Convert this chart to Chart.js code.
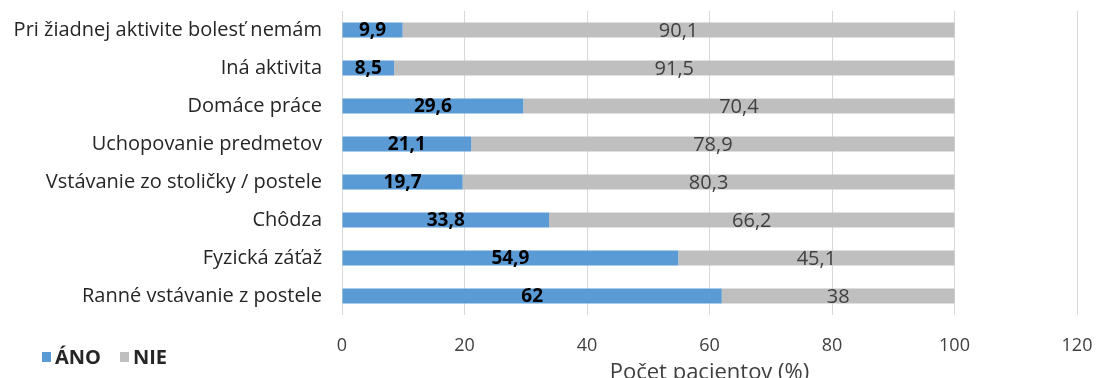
<!DOCTYPE html>
<html>
<head>
<meta charset="utf-8">
<script src="https://cdn.jsdelivr.net/npm/chart.js@4"></script>
<style>
  html, body { margin: 0; padding: 0; background: #fff; overflow: hidden; }
  #wrap { position: relative; width: 1097px; height: 390px; }
  #legend { position: absolute; left: 42px; top: 343px; font: bold 20px "Open Sans", sans-serif; color: #262626; display: flex; }
  #legend span.item { display: flex; align-items: center; margin-right: 19px; }
  #legend span.box { display: inline-block; width: 9px; height: 10px; margin-right: 4px; }
</style>
</head>
<body>
<div id="wrap">
  <canvas id="chart" width="1097" height="390"></canvas>
  <div id="legend"></div>
</div>
<script>
// categories top to bottom
const categories = [
  "Pri žiadnej aktivite bolesť nemám",
  "Iná aktivita",
  "Domáce práce",
  "Uchopovanie predmetov",
  "Vstávanie zo stoličky / postele",
  "Chôdza",
  "Fyzická záťaž",
  "Ranné vstávanie z postele"
];
const ano = [9.9, 8.5, 29.6, 21.1, 19.7, 33.8, 54.9, 62];
const nie = [90.1, 91.5, 70.4, 78.9, 80.3, 66.2, 45.1, 38];
const seriesNames = ["ÁNO", "NIE"];
const colors = ["#5B9BD5", "#BFBFBF"];

const fmt = v => String(v).replace(".", ",");

// draws value labels in the middle of each bar
const barLabels = {
  id: "barLabels",
  afterDatasetsDraw(chart) {
    const ctx = chart.ctx;
    ctx.save();
    ctx.textAlign = "center";
    ctx.textBaseline = "middle";
    chart.data.datasets.forEach((ds, i) => {
      const meta = chart.getDatasetMeta(i);
      ctx.font = (i === 0 ? "bold 19px" : "20px") + " 'Open Sans', sans-serif";
      ctx.fillStyle = i === 0 ? "#000" : "#404040";
      meta.data.forEach((bar, j) => {
        const x = (bar.x + bar.base) / 2;
        ctx.fillText(fmt(ds.data[j]), x, bar.y + 1);
      });
    });
    ctx.restore();
  }
};

const chart = new Chart(document.getElementById("chart"), {
  type: "bar",
  data: {
    labels: categories,
    datasets: [
      { label: seriesNames[0], data: ano, backgroundColor: colors[0] },
      { label: seriesNames[1], data: nie, backgroundColor: colors[1] }
    ]
  },
  options: {
    indexAxis: "y",
    responsive: false,
    animation: false,
    barPercentage: 0.8,
    categoryPercentage: 0.5,
    layout: { padding: { top: 11, right: 20, left: 0, bottom: 0 } },
    plugins: { legend: { display: false }, tooltip: { enabled: false } },
    scales: {
      x: {
        stacked: true,
        min: 0,
        max: 120,
        ticks: { stepSize: 20, color: "#404040", font: { family: "'Open Sans', sans-serif", size: 18 }, padding: 20 },
        grid: { color: "#d9d9d9", drawTicks: false },
        border: { display: false },
        title: { display: true, text: "Počet pacientov (%)", color: "#404040", font: { family: "'Open Sans', sans-serif", size: 22 }, padding: { top: -14 } },
        afterFit(scale) {
          scale.height = 75;
          scale.paddingLeft = 0;
          scale.paddingRight = 0;
        }
      },
      y: {
        stacked: true,
        ticks: { color: "#262626", font: { family: "'Open Sans', sans-serif", size: 20 }, padding: 20 },
        grid: { display: false, drawTicks: false },
        border: { display: false },
        afterFit(scale) {
          scale.width = 342;
          scale.paddingTop = 0;
          scale.paddingBottom = 0;
        }
      }
    }
  },
  plugins: [barLabels]
});

// legend built from dataset settings
const legend = document.getElementById("legend");
chart.data.datasets.forEach(ds => {
  const item = document.createElement("span");
  item.className = "item";
  item.innerHTML = '<span class="box" style="background:' + ds.backgroundColor + '"></span>' + ds.label;
  legend.appendChild(item);
});
</script>
</body>
</html>
